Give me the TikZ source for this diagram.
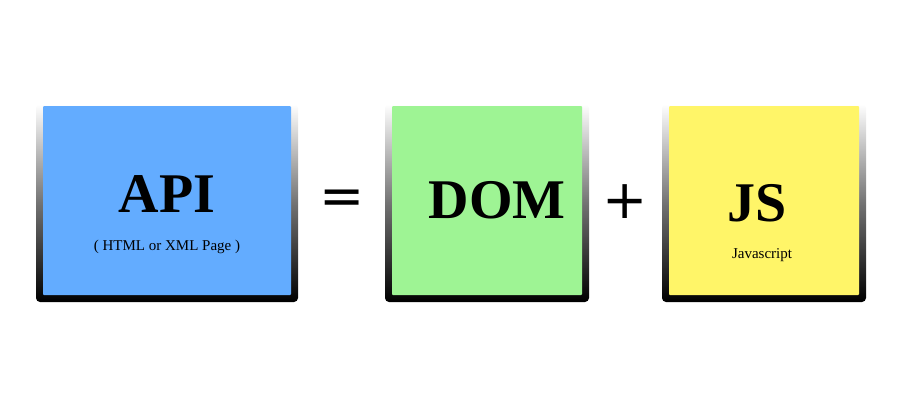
\documentclass[tikz,border=0pt]{standalone}
\usepackage{fontspec}
\setmainfont{Liberation Serif}
\newfontfamily\signfont{DejaVu Sans}
\tikzset{
  shadowbox/.style={rounded corners=4pt,top color=white,bottom color=black,middle color=black!55},
  facebox/.style={inner sep=0pt,outer sep=0pt},
  bigword/.style={font=\bfseries\fontsize{56}{60}\selectfont},
  smallword/.style={font=\fontsize{15}{17}\selectfont},
  sign/.style={font=\signfont\fontsize{54}{56}\selectfont}
}
\begin{document}
\begin{tikzpicture}[x=1pt,y=-1pt]
\useasboundingbox (0,0) rectangle (900,400);
% shadows
\shade[shadowbox] (36,104) rectangle (298,302);
\shade[shadowbox] (385,104) rectangle (589,302);
\shade[shadowbox] (662,104) rectangle (866,302);
% faces
\fill[fill={rgb,255:red,99;green,172;blue,255},rounded corners=1pt] (43,106) rectangle (291,295);
\fill[fill={rgb,255:red,158;green,244;blue,148},rounded corners=1pt] (392,106) rectangle (582,295);
\fill[fill={rgb,255:red,255;green,245;blue,104},rounded corners=1pt] (669,106) rectangle (859,295);
% labels
\node[bigword] (api) at (167,194) {API};
\node[smallword] (apisub) at (167,247) {( HTML or XML Page )};
\node[bigword] (dom) at (497,200) {DOM};
\node[bigword] (js) at (757,203) {JS};
\node[smallword] (jssub) at (762,255) {Javascript};
\node[sign] (eq) at (342,202) {=};
\node[sign] (plus) at (625,202) {+};
\end{tikzpicture}
\end{document}
